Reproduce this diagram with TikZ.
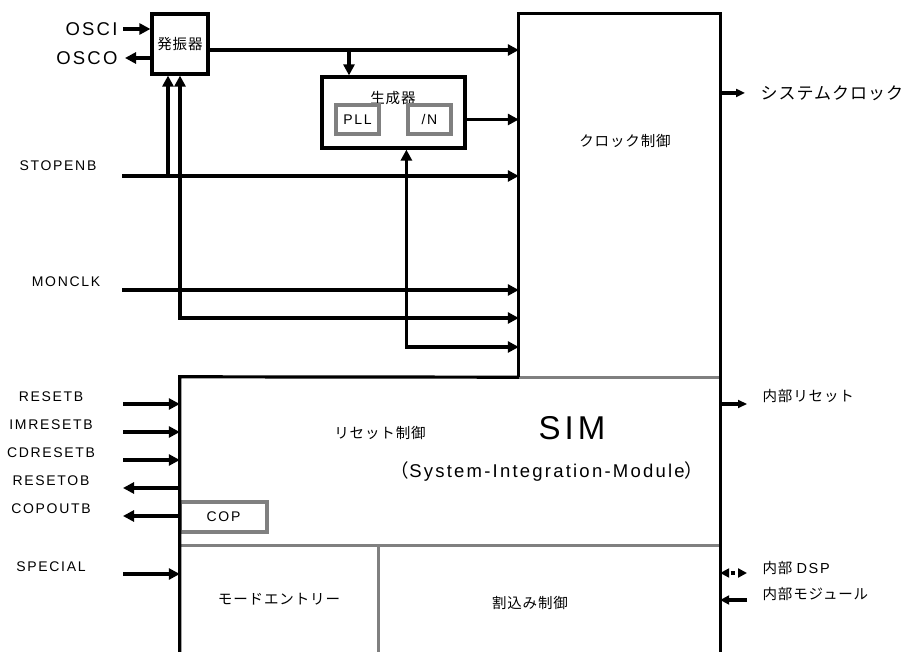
\documentclass[tikz,border=0pt]{standalone}
\usepackage{fontspec}
\setmainfont{Liberation Sans}[LetterSpace=12]
\newfontfamily\jpfont{Noto Sans CJK JP}[LetterSpace=6]
\usetikzlibrary{arrows.meta, positioning}

\begin{document}
\begin{tikzpicture}[x=1pt, y=-1pt, font=\fontsize{14}{16}\selectfont,
    >={Triangle[length=11pt, width=11pt]},
    sig/.style={line width=3.2pt},
    gry/.style={line width=3.2pt, draw=black!50},
    blk/.style={draw, line width=3.2pt, inner sep=0pt},
    sub/.style={draw=black!50, line width=3.2pt, inner sep=0pt,
                minimum width=43pt, minimum height=29pt},
    area/.style={inner sep=0pt},
    jp/.style={font=\jpfont\fontsize{14.5}{16}\selectfont},
    jpbig/.style={font=\jpfont\fontsize{17}{19}\selectfont},
    big/.style={font=\fontsize{18.5}{20}\selectfont}]
    \useasboundingbox (0,0) rectangle (911,652);

    % blocks
    \node[blk, minimum width=56pt, minimum height=60pt, jp] (osc) at (180,44) {発振器};
    \node[blk, minimum width=143pt, minimum height=71pt] (gen) at (393.5,112.5) {};
    \node[jp] (gentitle) at (393,98) {生成器};
    \node[sub] (pll) at (357.5,119.5) {PLL};
    \node[sub] (divn) at (429.5,119.5) {/N};
    \node[area, minimum width=201pt, minimum height=363pt] (clk) at (619.5,195.5) {};
    \node[jp] (clktitle) at (625,141) {クロック制御};
    \node[area, minimum width=540pt, minimum height=275pt] (sim) at (450,514.5) {};
    \node[area, minimum width=198pt, minimum height=106pt, jp] (mode) at (279,599) {モードエントリー};

    % inner borders
    \draw[gry] (clk.south west) -- (clk.south east);
    \draw[gry] (mode.north west) -- (sim.east |- mode.north);
    \draw[gry] (mode.north east) -- (mode.south east);
    \node[sub, minimum width=87pt, minimum height=30pt] (cop) at (223.5,517) {COP};

    % outline
    \draw[sig] (clk.south west) -- (clk.north west) -- (clk.north east) -- (sim.south east);
    \draw[sig] (sim.south west) -- (sim.north west) -- (clk.south west);

    \node[jp] (rsttitle) at (380,433) {リセット制御};
    \node[font=\fontsize{33}{36}\selectfont] (simtitle) at (572,428) {SIM};
    \node[font=\fontsize{18.5}{20}\selectfont] (simname) at (547,472)
        {{\jpfont （}System-Integration-Module{\jpfont ）}};
    \node[jp] (intrtitle) at (530,603) {割込み制御};

    % oscillator and generator
    \coordinate (osci) at (123,29);
    \coordinate (osco) at (125,58);
    \node[big, left=2pt of osci] (osci-lbl) {OSCI};
    \node[big, left=4pt of osco] (osco-lbl) {OSCO};
    \draw[sig, ->] (osci) -- (osci -| osc.west);
    \draw[sig, ->] (osc.west |- osco) -- (osco);
    \draw[sig, ->] (osc.east |- 0,50) -- (clk.west |- 0,50);
    \coordinate (tap) at (349,50);
    \draw[sig, ->] (tap) -- (tap |- gen.north);
    \draw[sig, ->] (gen.east |- divn) -- (clk.west |- divn);

    % STOPENB / MONCLK
    \coordinate (stopenb) at (122,176);
    \coordinate (monclk) at (122,290);
    \node (stopenb-lbl) at (58,166) {STOPENB};
    \node (monclk-lbl) at (66,282) {MONCLK};
    \draw[sig, ->] (stopenb) -- (stopenb -| clk.west);
    \draw[sig, ->] (stopenb -| 168,0) -- (osc.south -| 168,0);
    \draw[sig, ->] (monclk) -- (monclk -| clk.west);
    \draw[sig, <->] (osc.south) |- (clk.west |- 0,318);
    \draw[sig, <->] (gen.south -| divn.west) |- (clk.west |- 0,347);

    % reset and mode signals
    \foreach \nm/\yy in {RESETB/404, IMRESETB/432, CDRESETB/460, SPECIAL/574} {
        \coordinate (\nm) at (123,\yy);
        \node (\nm-lbl) at (51,\yy-7) {\nm};
        \draw[sig, ->] (\nm) -- (\nm -| sim.west);
    }
    \foreach \nm/\yy in {RESETOB/488, COPOUTB/516} {
        \coordinate (\nm) at (123,\yy);
        \node (\nm-lbl) at (51,\yy-7) {\nm};
        \draw[sig, <-] (\nm) -- (\nm -| sim.west);
    }

    % outputs on the right
    \coordinate (sysclk) at (745,93);
    \draw[sig, ->, >={Triangle[length=9pt, width=8pt]}] (clk.east |- sysclk) -- (sysclk);
    \node[jpbig, right=12pt of sysclk] (sysclk-lbl) {システムクロック};
    \coordinate (irst) at (747,404);
    \draw[sig, ->, >={Triangle[length=9pt, width=8pt]}] (sim.east |- irst) -- (irst);
    \node[jp, right=12pt of irst, yshift=8pt] (irst-lbl) {内部リセット};
    \coordinate (idsp) at (747,573);
    \draw[sig, <->, >={Triangle[length=9pt, width=9pt]},
          dash pattern=on 0pt off 2pt on 4pt off 2pt] (sim.east |- idsp) -- (idsp);
    \node[jp, right=12pt of idsp, yshift=5pt] (idsp-lbl) {内部 {\rmfamily DSP}};
    \coordinate (imod) at (747,600);
    \draw[sig, ->, >={Triangle[length=9pt, width=9pt]}] (imod) -- (sim.east |- imod);
    \node[jp, right=12pt of imod, yshift=6pt] (imod-lbl) {内部モジュール};
\end{tikzpicture}
\end{document}
